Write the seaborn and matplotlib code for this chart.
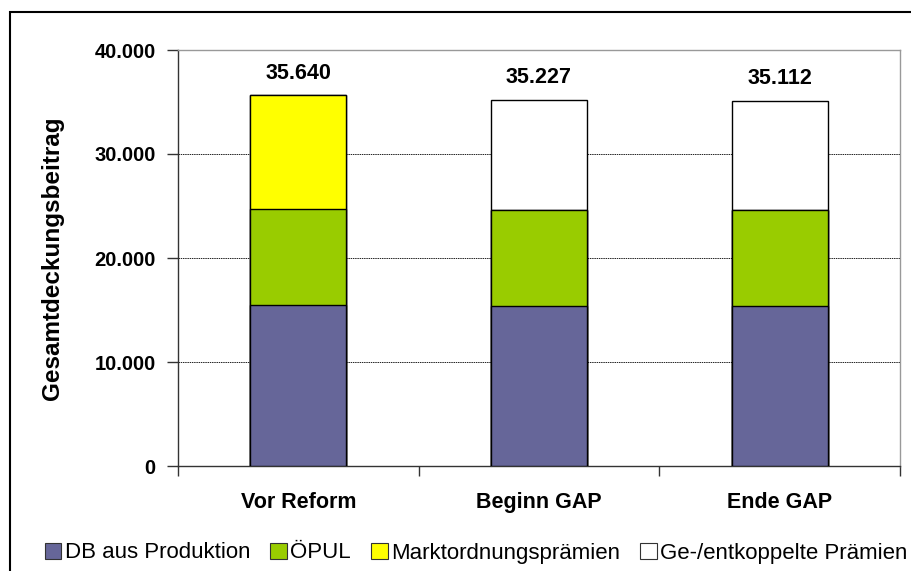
import matplotlib
matplotlib.use("Agg")
import matplotlib.pyplot as plt
from matplotlib.patches import Patch, Rectangle
from matplotlib.ticker import FuncFormatter, FixedLocator
import numpy as np
import pandas as pd
import seaborn as sns

# Betriebsvarianten und Komponenten des Gesamtdeckungsbeitrags
categories = ["Vor Reform", "Beginn GAP", "Ende GAP"]
db_produktion = [15500, 15400, 15400]
oepul = [9200, 9200, 9180]
marktordnung = [10940, 0, 0]
entkoppelt = [0, 10627, 10532]

series_names = ["DB aus Produktion", "ÖPUL", "Marktordnungsprämien", "Ge-/entkoppelte Prämien"]
series_colors = ["#666699", "#99CC00", "#FFFF00", "#FFFFFF"]
yticks = [0, 10000, 20000, 30000, 40000]

sns.set_theme(style="white")
plt.rcParams["font.family"] = ["Liberation Sans", "DejaVu Sans"]
plt.rcParams["text.color"] = "black"
plt.rcParams["axes.labelcolor"] = "black"
plt.rcParams["xtick.color"] = "black"
plt.rcParams["ytick.color"] = "black"

fig = plt.figure(figsize=(9.12, 5.71), dpi=100)
ax = fig.add_axes([178 / 912, 105 / 571, 722 / 912, 416 / 571])

# cumulative stacks, drawn from the top layer down
layers = [db_produktion, oepul, marktordnung, entkoppelt]
cum = np.cumsum(np.array(layers), axis=0)
draw_order = [3, 2, 1, 0]
for i in draw_order:
    df = pd.DataFrame({"Kategorie": categories, "Wert": cum[i]})
    sns.barplot(data=df, x="Kategorie", y="Wert", color=series_colors[i],
                saturation=1, width=0.4, edgecolor="black", linewidth=1.0,
                ax=ax, zorder=3)

totals = cum[-1]
for xi, tot in enumerate(totals):
    label = f"{int(round(tot)):,}".replace(",", ".")
    ax.annotate(label, (xi, tot), xytext=(0, 8.5), textcoords="offset points",
                ha="center", va="bottom", fontsize=15.5, fontweight="bold",
                color="black")

ax.set_xlim(-0.5, 2.5)
ax.set_ylim(0, 40000)
ax.set_yticks(yticks)
ax.yaxis.set_major_formatter(FuncFormatter(lambda v, p: f"{int(v):,}".replace(",", ".")))
ax.set_xlabel("")
ax.set_ylabel("Gesamtdeckungsbeitrag", fontsize=17.5, fontweight="bold", labelpad=22)

ax.grid(False)
for y in yticks[1:-1]:
    ax.axhline(y, color="#222222", lw=0.7, ls=(0, (1.5, 0.8)), zorder=1)

for s in ["left", "bottom"]:
    ax.spines[s].set_color("#333333")
    ax.spines[s].set_linewidth(1.0)
for s in ["top", "right"]:
    ax.spines[s].set_color("#999999")
    ax.spines[s].set_linewidth(1.0)

ax.tick_params(axis="y", which="major", length=8, width=1, color="#333333",
               direction="out", left=True, labelsize=14.5, pad=8)
for t in ax.get_yticklabels():
    t.set_fontweight("bold")
ax.tick_params(axis="x", which="major", length=0, labelsize=15.5, pad=19)
for t in ax.get_xticklabels():
    t.set_fontweight("bold")
ax.xaxis.set_minor_locator(FixedLocator([-0.5, 0.5, 1.5, 2.5]))
ax.tick_params(axis="x", which="minor", length=7, width=1, color="#333333",
               direction="out", bottom=True)

handles = [Patch(facecolor=c, edgecolor="#333333", linewidth=0.8) for c in series_colors]
fig.legend(handles, series_names, loc="center", bbox_to_anchor=(476 / 912, 18 / 571),
           ncol=4, frameon=False, fontsize=16, handlelength=0.75, handleheight=0.75,
           handletextpad=0.15, columnspacing=0.9, borderaxespad=0, borderpad=0)

# outer chart frame
fig.patches.append(Rectangle((10 / 912, -0.2), 1.2, (571 - 12) / 571 + 0.2,
                             transform=fig.transFigure, fill=False,
                             edgecolor="black", linewidth=1.5, clip_on=False))

fig.savefig("out.png", dpi=100)
